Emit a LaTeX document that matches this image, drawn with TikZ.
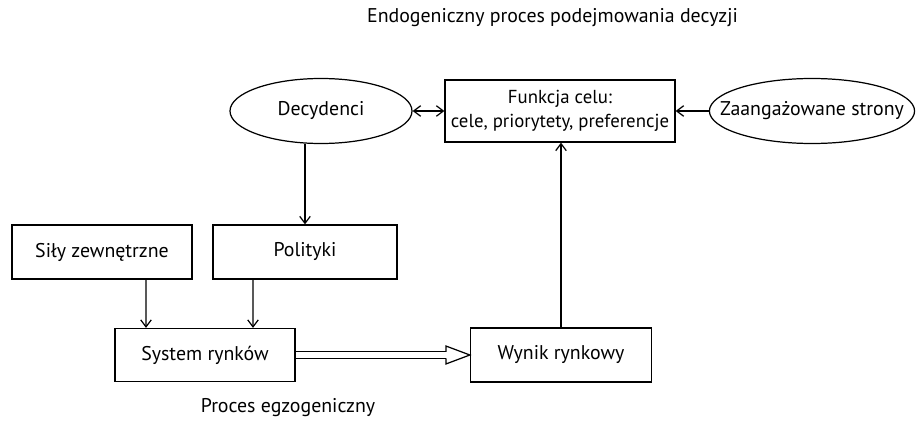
\documentclass[tikz,border=0pt]{standalone}
\usepackage{fontspec}
\setmainfont{PT Sans}
\usepackage{tikz}
\usetikzlibrary{calc,arrows.meta,shapes.geometric}

\begin{document}
\begin{tikzpicture}[auto, line width=0.7pt, font=\fontsize{11.3}{13.5}\selectfont,
    box/.style={rectangle, draw, minimum height=1.08cm, text centered},
    oval/.style={ellipse, draw, minimum height=1.3cm, inner sep=1pt},
    arr/.style={-{Straight Barb[length=4pt,width=6pt]}}]
    \useasboundingbox (0,0) rectangle (18.36,-8.66);
    % Place nodes
    \node [box, minimum width=4.6cm, minimum height=1.24cm, inner xsep=1pt, align=center, font=\fontsize{10.7}{13.5}\selectfont] (goal) at (11.2,-2.22) {Funkcja celu:\\cele, priorytety, preferencje};
    \node [oval, minimum width=3.64cm, left of=goal, node distance=4.78cm] (dec) {Decydenci};
    \node [oval, minimum width=4.1cm, inner xsep=-11pt, right of=goal, node distance=5.04cm] (party) {Zaangażowane strony};
    \node [box, minimum width=3.68cm] (pol) at (6.1,-5.04) {Polityki};
    \node [box, minimum width=3.6cm, left of=pol, node distance=4.06cm] (ext) {Siły zewnętrzne};
    \node [box, minimum width=3.6cm, minimum height=1.06cm] (sys) at (4.1,-7.1) {System rynków};
    \node [box, minimum width=3.62cm, right of=sys, node distance=7.12cm] (res) {Wynik rynkowy};
    \node (endo) at (11.05,-0.36) {Endogeniczny proces podejmowania decyzji};
    \node (exo) at (5.76,-8.16) {Proces egzogeniczny};

    % Connectors
    \draw [{Straight Barb[length=4pt,width=6pt]}-{Straight Barb[length=4pt,width=6pt]}] (dec.east) -- (goal.west);
    \draw [arr] (party.west) -- (goal.east);
    \draw [arr] (dec.south -| pol.north) -- (pol.north);
    \draw [arr] ($(ext.south)+(0.88,0)$) -- ($(sys.north)+(-1.18,0)$);
    \draw [arr] ($(pol.south)+(-1.04,0)$) -- ($(sys.north)+(0.96,0)$);
    \draw [arr] (res.north) -- (res.north |- goal.south);
    % hollow double arrow
    \draw ($(sys.east)+(0,0.065)$) -- ($(res.west)+(-0.48,0.065)$)
          ($(sys.east)+(0,-0.065)$) -- ($(res.west)+(-0.48,-0.065)$);
    \draw [line join=miter] ($(res.west)+(-0.48,0.065)$) -- ($(res.west)+(-0.48,0.18)$) -- (res.west)
          -- ($(res.west)+(-0.48,-0.18)$) -- ($(res.west)+(-0.48,-0.065)$);
\end{tikzpicture}
\end{document}
